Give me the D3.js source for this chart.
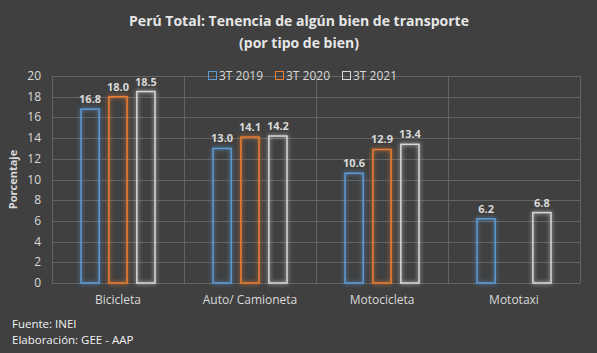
<!DOCTYPE html>
<html lang="es">
<head>
    <meta charset="UTF-8">
    <title>Perú Total: Tenencia de algún bien de transporte</title>
    <script src="https://d3js.org/d3.v7.min.js"></script>
    <style>
        body {
            margin: 0;
            background-color: #404040;
            font-family: 'Open Sans', 'Noto Sans', sans-serif;
        }
        svg { display: block; }
    </style>
</head>
<body>
    <div id="chart"></div>

    <script>
        // Chart data
        const categories = ["Bicicleta", "Auto/ Camioneta", "Motocicleta", "Mototaxi"];
        const seriesNames = ["3T 2019", "3T 2020", "3T 2021"];
        const values2019 = [16.8, 13.0, 10.6, 6.2];
        const values2020 = [18.0, 14.1, 12.9, null];
        const values2021 = [18.5, 14.2, 13.4, 6.8];
        const yTicks = [0, 2, 4, 6, 8, 10, 12, 14, 16, 18, 20];

        const seriesValues = [values2019, values2020, values2021];
        const colors = ["#5b9bd5", "#ed7d31", "#d9d9d9"];

        const width = 597;
        const height = 353;
        const margin = { top: 76, right: 17, bottom: 70, left: 52 };

        const svg = d3.select("#chart")
            .append("svg")
            .attr("width", width)
            .attr("height", height);

        // glow filters for the bar outlines
        const defs = svg.append("defs");
        colors.forEach((c, i) => {
            const f = defs.append("filter")
                .attr("id", "glow" + i)
                .attr("x", "-50%").attr("y", "-20%")
                .attr("width", "200%").attr("height", "140%");
            f.append("feGaussianBlur")
                .attr("in", "SourceGraphic")
                .attr("stdDeviation", 2)
                .attr("result", "blur");
            const merge = f.append("feMerge");
            merge.append("feMergeNode").attr("in", "blur");
            merge.append("feMergeNode").attr("in", "SourceGraphic");
        });

        const x = d3.scaleBand()
            .domain(categories)
            .range([margin.left, width - margin.right]);

        const xInner = d3.scaleBand()
            .domain(seriesNames)
            .range([29, 103])
            .paddingInner(0.35);

        const y = d3.scaleLinear()
            .domain([0, 20])
            .range([height - margin.bottom, margin.top]);

        // horizontal gridlines
        svg.append("g")
            .selectAll("line")
            .data(yTicks)
            .enter()
            .append("line")
            .attr("x1", margin.left)
            .attr("x2", width - margin.right)
            .attr("y1", d => Math.round(y(d)) + 0.5)
            .attr("y2", d => Math.round(y(d)) + 0.5)
            .attr("stroke", "#636363")
            .attr("stroke-width", 1);

        // vertical category separators
        const boundaries = categories.map(c => x(c)).concat([x.range()[1]]);
        svg.append("g")
            .selectAll("line")
            .data(boundaries)
            .enter()
            .append("line")
            .attr("x1", d => Math.round(d) + 0.5)
            .attr("x2", d => Math.round(d) + 0.5)
            .attr("y1", y(20))
            .attr("y2", y(0))
            .attr("stroke", "#636363")
            .attr("stroke-width", 1);

        // y tick labels
        svg.append("g")
            .selectAll("text")
            .data(yTicks)
            .enter()
            .append("text")
            .attr("x", 41)
            .attr("y", d => y(d) + 4)
            .attr("text-anchor", "end")
            .attr("fill", "#d9d9d9")
            .style("font-size", "12px")
            .text(d => d);

        // y axis title
        svg.append("text")
            .attr("transform", `translate(17, ${(y(0) + y(20)) / 2}) rotate(-90)`)
            .attr("text-anchor", "middle")
            .attr("fill", "#d9d9d9")
            .style("font-size", "11px")
            .style("font-weight", "bold")
            .text("Porcentaje");

        // category labels
        svg.append("g")
            .selectAll("text")
            .data(categories)
            .enter()
            .append("text")
            .attr("x", d => x(d) + x.bandwidth() / 2)
            .attr("y", 304)
            .attr("text-anchor", "middle")
            .attr("fill", "#d9d9d9")
            .style("font-size", "12px")
            .text(d => d);

        // bars
        const barData = [];
        categories.forEach((cat, ci) => {
            seriesNames.forEach((s, si) => {
                const v = seriesValues[si][ci];
                if (v !== null) barData.push({ cat, series: s, si, value: v });
            });
        });

        const bars = svg.append("g");
        bars.selectAll("rect")
            .data(barData)
            .enter()
            .append("rect")
            .attr("x", d => x(d.cat) + xInner(d.series))
            .attr("y", d => y(d.value))
            .attr("width", xInner.bandwidth())
            .attr("height", d => y(0) - y(d.value))
            .attr("fill", "none")
            .attr("stroke", d => colors[d.si])
            .attr("stroke-width", 1.5)
            .attr("filter", d => `url(#glow${d.si})`);

        // value labels
        bars.selectAll("text")
            .data(barData)
            .enter()
            .append("text")
            .attr("x", d => x(d.cat) + xInner(d.series) + xInner.bandwidth() / 2)
            .attr("y", d => y(d.value) - 6)
            .attr("text-anchor", "middle")
            .attr("fill", "#d9d9d9")
            .style("font-size", "11px")
            .style("font-weight", "bold")
            .text(d => d.value.toFixed(1));

        // legend
        const legend = svg.append("g")
            .attr("transform", "translate(208, 76)");
        const legendX = [0, 67, 134];
        seriesNames.forEach((s, i) => {
            const g = legend.append("g").attr("transform", `translate(${legendX[i]}, 0)`);
            g.append("rect")
                .attr("x", 0.5)
                .attr("y", -4.5)
                .attr("width", 8)
                .attr("height", 8)
                .attr("fill", "none")
                .attr("stroke", colors[i])
                .attr("stroke-width", 1);
            g.append("text")
                .attr("x", 11)
                .attr("y", 4)
                .attr("fill", "#d9d9d9")
                .style("font-size", "12px")
                .text(s);
        });

        // title
        const title = svg.append("text")
            .attr("text-anchor", "middle")
            .attr("fill", "#e6e6e6")
            .style("font-size", "14px")
            .style("font-weight", "bold");
        title.append("tspan").attr("x", 299).attr("y", 26).text("Perú Total: Tenencia de algún bien de transporte");
        title.append("tspan").attr("x", 299).attr("y", 48).text("(por tipo de bien)");

        // footer
        svg.append("text")
            .attr("x", 12)
            .attr("y", 328)
            .attr("fill", "#f2f2f2")
            .style("font-size", "11.5px")
            .text("Fuente: INEI");
        svg.append("text")
            .attr("x", 12)
            .attr("y", 344)
            .attr("fill", "#f2f2f2")
            .style("font-size", "11.5px")
            .text("Elaboración: GEE - AAP");
    </script>
</body>
</html>
